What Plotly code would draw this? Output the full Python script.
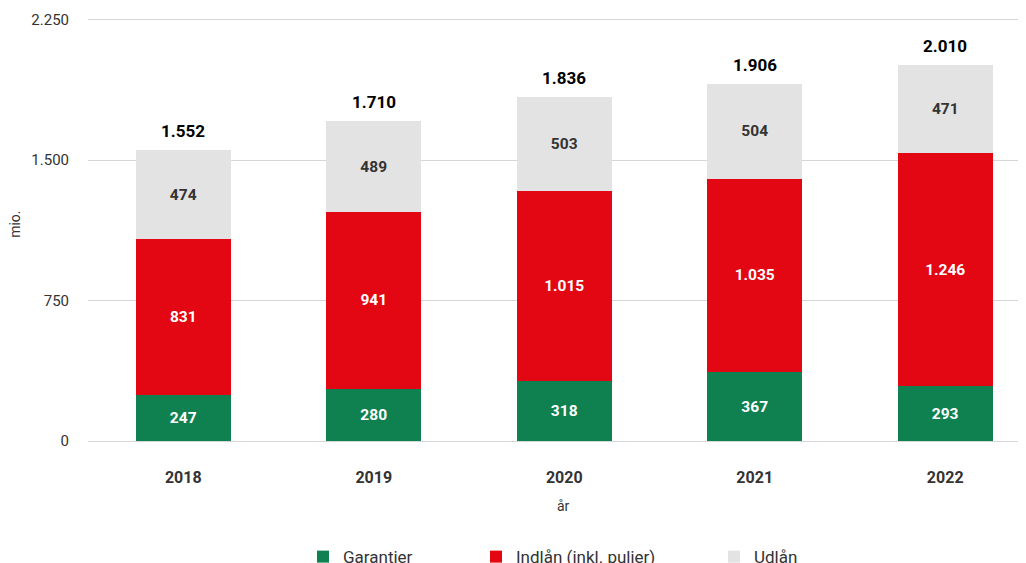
import plotly.graph_objects as go

years = ["2018", "2019", "2020", "2021", "2022"]
garantier = [247, 280, 318, 367, 293]
indlaan = [831, 941, 1015, 1035, 1246]
udlaan = [474, 489, 503, 504, 471]
totals = [1552, 1710, 1836, 1906, 2010]

series_names = ["Garantier", "Indlån (inkl. puljer)", "Udlån"]
colors = ["#0F8150", "#E30613", "#E3E3E3"]
text_colors = ["#FFFFFF", "#FFFFFF", "#333333"]
legend_ids = ["legend", "legend2", "legend3"]
legend_square_px = [317, 490, 728]

FONT = "Roboto"
W, H = 1026, 563
OFF = 8  # page body margin offset
Y_TOP = 2270
ZERO_SCREEN = 441
PX_PER_UNIT = 421 / 2250
PH = PX_PER_UNIT * Y_TOP
MB = H - (ZERO_SCREEN - OFF)
MT = H - MB - PH
ML, MR = 88 - OFF, OFF
PW = W - ML - MR


def px_x(screen):
    return (screen - OFF - ML) / PW


def px_y(screen):
    return (H - MB - (screen - OFF)) / PH


fig = go.Figure()
for name, vals, col, tcol, lid in zip(series_names, [garantier, indlaan, udlaan], colors, text_colors, legend_ids):
    fig.add_trace(go.Bar(
        x=years, y=vals, name=name,
        marker=dict(color=col, line=dict(width=0)),
        width=0.5,
        texttemplate="<b>%{y:,}</b>",
        textposition="inside",
        insidetextanchor="middle",
        textangle=0,
        constraintext="none",
        textfont=dict(color=tcol, size=15.5, family=FONT),
        hoverinfo="skip",
        legend=lid,
        showlegend=True,
    ))

annotations = [
    dict(x=i, y=tot, xref="x", yref="y", text=f"<b>{tot:,}</b>".replace(",", "."),
         showarrow=False, xanchor="center", yanchor="bottom", yshift=7,
         font=dict(color="#000000", size=17, family=FONT))
    for i, tot in enumerate(totals)
]
annotations += [
    dict(text="år", xref="paper", yref="paper", x=px_x(563), y=px_y(506),
         xanchor="center", yanchor="middle", showarrow=False,
         font=dict(size=14, color="#333333", family=FONT)),
    dict(text="mio.", xref="paper", yref="paper", x=px_x(15), y=px_y(225),
         xanchor="center", yanchor="middle", showarrow=False, textangle=-90,
         font=dict(size=14, color="#333333", family=FONT)),
]

legend_style = dict(
    orientation="h",
    xanchor="left", yanchor="middle",
    y=px_y(557),
    font=dict(size=17, color="#333333", family=FONT),
    itemwidth=30,
    bgcolor="rgba(0,0,0,0)",
)

fig.update_layout(
    width=W, height=H,
    showlegend=True,
    barmode="stack",
    separators=",.",
    paper_bgcolor="white", plot_bgcolor="white",
    margin=dict(l=ML, r=MR, t=MT, b=MB, autoexpand=False),
    font=dict(family=FONT, color="#333333", size=14),
    xaxis=dict(
        type="category",
        categoryorder="array", categoryarray=years,
        range=[-0.5, 4.424],
        automargin=False,
        showgrid=False, showline=False, zeroline=False,
        ticks="", tickfont=dict(size=16, color="#333333", family=FONT),
        tickprefix="<b>", ticksuffix="</b>",
        ticklabelstandoff=25,
    ),
    yaxis=dict(
        range=[0, Y_TOP],
        tickvals=[0, 750, 1500, 2250],
        tickformat=",",
        automargin=False,
        showgrid=True, gridcolor="#D6D6D6", gridwidth=1,
        zeroline=True, zerolinecolor="#D6D6D6", zerolinewidth=1,
        showline=False, ticks="",
        ticklabelstandoff=18,
        tickfont=dict(size=15, color="#333333", family=FONT),
    ),
    legend=dict(legend_style, x=px_x(legend_square_px[0] - 14)),
    legend2=dict(legend_style, x=px_x(legend_square_px[1] - 14)),
    legend3=dict(legend_style, x=px_x(legend_square_px[2] - 14)),
    annotations=annotations,
)

fig.write_html("out.html")
